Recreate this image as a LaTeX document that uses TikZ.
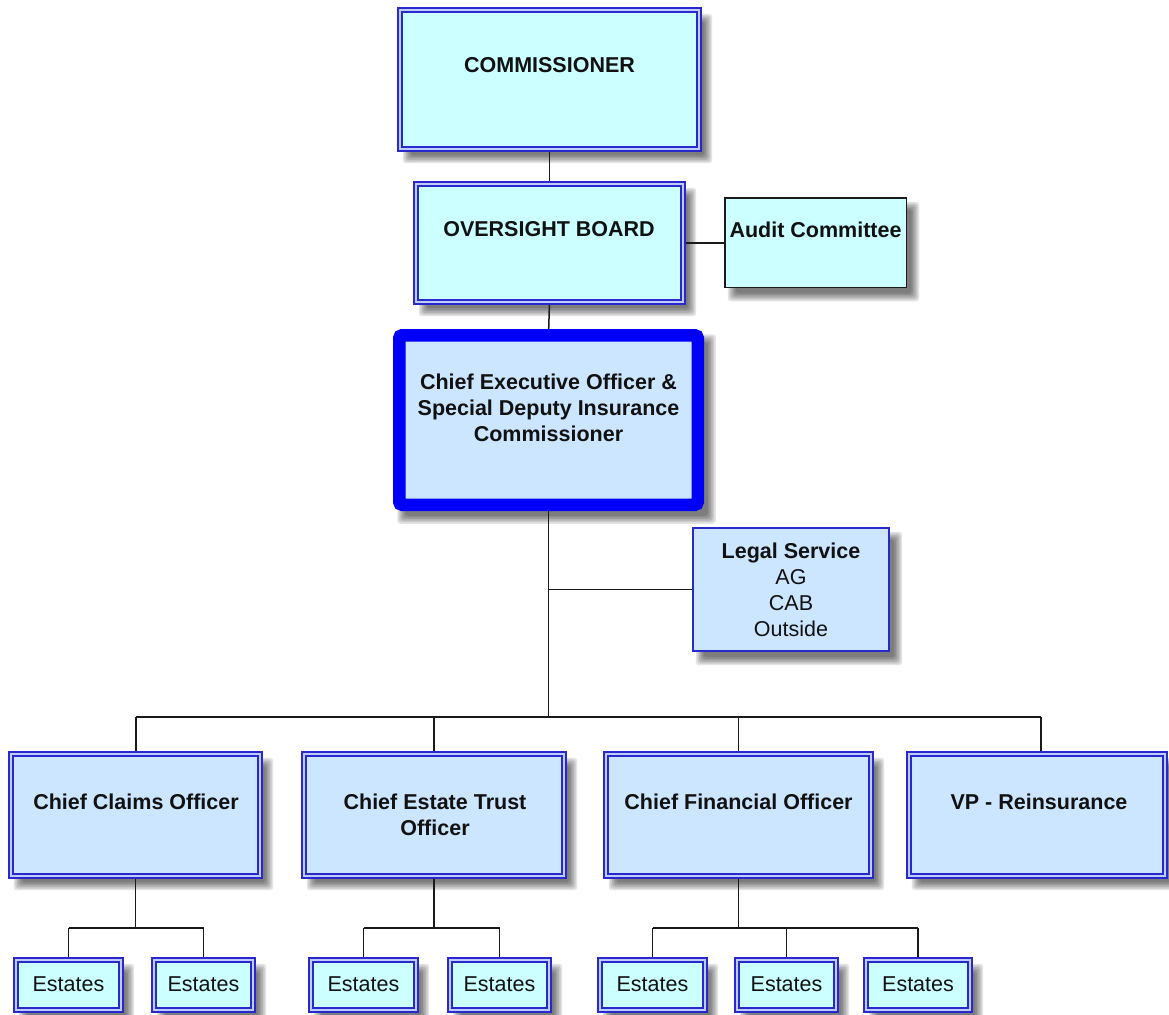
\documentclass[tikz,border=0pt]{standalone}
\usepackage{fontspec}
\setmainfont{Liberation Sans}
\pgfdeclarelayer{backfill}
\pgfdeclarelayer{background}
\pgfsetlayers{backfill,background,main}
\definecolor{cyanfill}{HTML}{CCFFFF}
\definecolor{bluefill}{HTML}{CCE6FF}
\definecolor{dblue}{RGB}{40,40,205}
\definecolor{gapblue}{RGB}{190,205,255}
\definecolor{ceoblue}{RGB}{0,0,250}
\definecolor{lineblk}{HTML}{1A1A1A}
\definecolor{txtblk}{HTML}{111111}
\tikzset{
  dbox/.style={rectangle, draw=dblue, double=gapblue, line width=2pt, double distance=1.6pt, inner sep=0pt, outer sep=0pt},
  ceobox/.style={rectangle, draw=ceoblue, line width=12.5pt, rounded corners=3pt, fill=bluefill, inner sep=0pt, outer sep=0pt},
  auditbox/.style={rectangle, draw=lineblk, line width=1.5pt, fill=cyanfill, inner sep=0pt, outer sep=0pt},
  legalbox/.style={rectangle, draw=dblue, line width=1.6pt, fill=bluefill, inner sep=0pt, outer sep=0pt},
  ttl/.style={anchor=north, inner sep=0pt, align=center, text=txtblk, font=\fontsize{21.5}{26}\selectfont\bfseries},
  reg/.style={anchor=north, inner sep=0pt, align=center, text=txtblk, font=\fontsize{21.5}{26}\selectfont},
  conn/.style={draw=lineblk, line width=1.5pt},
  shadowlayer/.style={fill=black, opacity=0.11, rounded corners=3pt}
}
% soft drop shadow behind a named node
\newcommand{\dropshadow}[2][3]{%
  \foreach \k in {0,...,5}{%
    \pgfmathsetmacro{\ex}{#1+2-1.6*\k}%
    \fill[shadowlayer] ([xshift=8pt-\ex pt, yshift=-9pt-\ex pt]#2.south west) rectangle ([xshift=8pt+\ex pt, yshift=-9pt+\ex pt]#2.north east);
  }%
}
\begin{document}
\begin{tikzpicture}[x=1pt,y=1pt]
\begin{pgfonlayer}{backfill}
\fill[white] (0,0) rectangle (1169,-1014);
\end{pgfonlayer}
\useasboundingbox (0,0) rectangle (1169,-1014);

% boxes
\node[dbox, fill=cyanfill, minimum width=299.4pt, minimum height=139.4pt] (comm) at (549.5,-79.5) {};
\node[dbox, fill=cyanfill, minimum width=267.4pt, minimum height=118.4pt] (over) at (549.5,-243) {};
\node[auditbox, minimum width=181.5pt, minimum height=89.5pt] (audit) at (815.5,-242.5) {};
\node[ceobox, minimum width=298.5pt, minimum height=169.5pt] (ceo) at (548.5,-420) {};
\node[legalbox, minimum width=196.4pt, minimum height=123.4pt] (legal) at (791,-589.5) {};

\node[dbox, fill=bluefill, minimum width=249.4pt, minimum height=122.4pt] (claims) at (135.5,-815) {};
\node[dbox, fill=bluefill, minimum width=260.4pt, minimum height=122.4pt] (trust) at (434,-815) {};
\node[dbox, fill=bluefill, minimum width=265.4pt, minimum height=122.4pt] (cfo) at (738.5,-815) {};
\node[dbox, fill=bluefill, minimum width=256.4pt, minimum height=122.4pt] (vp) at (1037,-815) {};

\node[dbox, fill=cyanfill, minimum width=105.4pt, minimum height=50.4pt] (e1) at (68.5,-985) {};
\node[dbox, fill=cyanfill, minimum width=99.4pt, minimum height=50.4pt] (e2) at (203.5,-985) {};
\node[dbox, fill=cyanfill, minimum width=105.4pt, minimum height=50.4pt] (e3) at (363.5,-985) {};
\node[dbox, fill=cyanfill, minimum width=99.4pt, minimum height=50.4pt] (e4) at (499.5,-985) {};
\node[dbox, fill=cyanfill, minimum width=105.4pt, minimum height=50.4pt] (e5) at (652.5,-985) {};
\node[dbox, fill=cyanfill, minimum width=99.4pt, minimum height=50.4pt] (e6) at (786.5,-985) {};
\node[dbox, fill=cyanfill, minimum width=104.4pt, minimum height=50.4pt] (e7) at (918,-985) {};

% texts
\node[ttl] (commT) at (549.5,-57.5) {COMMISSIONER};
\node[ttl] (overT) at (549,-221.5) {OVERSIGHT BOARD};
\node[ttl] (auditT) at (815.5,-221.5) {Audit Committee};
\node[ttl] (ceoT) at (548.5,-373.5) {Chief Executive Officer \&\\Special Deputy Insurance\\Commissioner};
\node[reg] (legalT) at (791,-542.5) {\textbf{Legal Service}\\AG\\CAB\\Outside};
\node[ttl] (claimsT) at (136,-793.5) {Chief Claims Officer};
\node[ttl] (trustT) at (435,-793.5) {Chief Estate Trust\\Officer};
\node[ttl] (cfoT) at (738.5,-793.5) {Chief Financial Officer};
\node[ttl] (vpT) at (1039,-793.5) {VP - Reinsurance};
\foreach \e in {e1,e2,e3,e4,e5,e6,e7}{
  \node[reg] (\e T) at ([yshift=8.5pt]\e.center) {Estates};
}

% shadows and connectors
\coordinate (bus) at (548.5,-717);
\coordinate (busL) at (136,-717);
\coordinate (busR) at (1041,-717);
\coordinate (sub) at (0,-928);
\begin{pgfonlayer}{background}
\foreach \n in {comm,over,audit,legal,claims,trust,cfo,vp,e1,e2,e3,e4,e5,e6,e7}{\dropshadow{\n}}
\dropshadow[8]{ceo}
\draw[conn] (comm.south) -- (over.north);
\draw[conn] (over.south) -- (ceo.north);
\draw[conn] (over.east) -- (audit.west |- over.east);
\draw[conn] (ceo.south) -- (bus);
\draw[conn] (ceo.south |- legal.west) -- (legal.west);
\draw[conn] (busL) -- (busR);
\draw[conn] (busL) -- (claims.north -| busL);
\draw[conn] (trust.north |- bus) -- (trust.north);
\draw[conn] (cfo.north |- bus) -- (cfo.north);
\draw[conn] (busR) -- (vp.north -| busR);
\draw[conn] (claims.south) -- (claims.south |- sub);
\draw[conn] (e1.north |- sub) -- (e2.north |- sub);
\draw[conn] (e1.north |- sub) -- (e1.north);
\draw[conn] (e2.north |- sub) -- (e2.north);
\draw[conn] (trust.south) -- (trust.south |- sub);
\draw[conn] (e3.north |- sub) -- (e4.north |- sub);
\draw[conn] (e3.north |- sub) -- (e3.north);
\draw[conn] (e4.north |- sub) -- (e4.north);
\draw[conn] (cfo.south) -- (cfo.south |- sub);
\draw[conn] (e5.north |- sub) -- (e7.north |- sub);
\draw[conn] (e5.north |- sub) -- (e5.north);
\draw[conn] (e6.north |- sub) -- (e6.north);
\draw[conn] (e7.north |- sub) -- (e7.north);
\end{pgfonlayer}
\end{tikzpicture}
\end{document}
